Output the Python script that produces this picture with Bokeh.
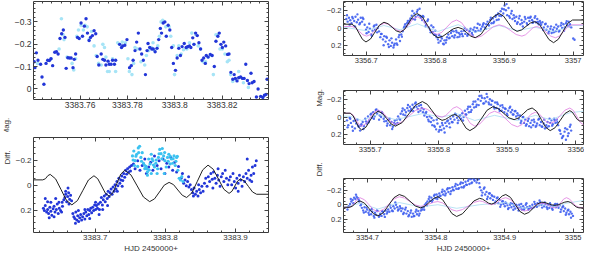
from bokeh.plotting import figure
from bokeh.layouts import row, column
from bokeh.models import Range1d, LinearAxis, SingleIntervalTicker, CustomJSTickFormatter, Title
from bokeh.embed import file_html
from bokeh.resources import INLINE

# ------------------------------------------------------------------ data
X_LABEL = "HJD 2450000+"
Y_LABEL_TOP = "Mag."
Y_LABEL_BOTTOM = "Diff."
Y_LABEL_RIGHT = "Diff." + "\u00a0" * 25 + "Mag."

# Panel A (left top): night 3383, zoom
A_dark = [(3383.7406,-0.121),(3383.7409,-0.095),(3383.7415,-0.161),(3383.7422,-0.128),(3383.7433,-0.110),(3383.7439,-0.053),
 (3383.7447,-0.021),(3383.7456,-0.114),(3383.7463,-0.128),(3383.7470,-0.127),(3383.7477,-0.135),(3383.7484,-0.104),
 (3383.7493,-0.164),(3383.7500,-0.166),(3383.7507,-0.156),(3383.7515,-0.225),(3383.7522,-0.246),(3383.7529,-0.263),
 (3383.7536,-0.230),(3383.7541,-0.092),(3383.7548,-0.139),(3383.7555,-0.138),(3383.7562,-0.138),(3383.7570,-0.095),
 (3383.7575,-0.132),(3383.7581,-0.156),(3383.7589,-0.230),(3383.7596,-0.225),(3383.7604,-0.294),(3383.7610,-0.235),
 (3383.7618,-0.280),(3383.7625,-0.313),(3383.7631,-0.249),(3383.7638,-0.216),(3383.7644,-0.230),(3383.7652,-0.238),
 (3383.7659,-0.260),(3383.7666,-0.246),(3383.7672,-0.145),(3383.7679,-0.107),(3383.7689,-0.156),(3383.7696,-0.132),
 (3383.7703,-0.128),(3383.7709,-0.107),(3383.7718,-0.124),(3383.7723,-0.110),(3383.7731,-0.110),(3383.7737,-0.128),
 (3383.7745,-0.110),(3383.7750,-0.128),(3383.7767,-0.199),(3383.7775,-0.185),(3383.7780,-0.192),(3383.7789,-0.195),
 (3383.7798,-0.220),(3383.7809,-0.095),(3383.7816,-0.104),(3383.7824,-0.128),(3383.7832,-0.171),(3383.7839,-0.209),
 (3383.7846,-0.249),(3383.7853,-0.178),(3383.7860,-0.156),(3383.7867,-0.128),(3383.7876,-0.064),(3383.7883,-0.171),
 (3383.7887,-0.203),(3383.7894,-0.185),(3383.7903,-0.178),(3383.7909,-0.178),(3383.7917,-0.166),(3383.7925,-0.181),
 (3383.7932,-0.220),(3383.7939,-0.270),(3383.7944,-0.249),(3383.7951,-0.294),(3383.7958,-0.299),(3383.7964,-0.235),
 (3383.7972,-0.284),(3383.7979,-0.263),(3383.7987,-0.185),(3383.7994,-0.114),(3383.8003,-0.083),(3383.8010,-0.138),
 (3383.8017,-0.181),(3383.8024,-0.149),(3383.8031,-0.189),(3383.8040,-0.203),(3383.8048,-0.185),(3383.8054,-0.188),
 (3383.8062,-0.192),(3383.8068,-0.185),(3383.8076,-0.228),(3383.8081,-0.199),(3383.8088,-0.249),(3383.8095,-0.238),
 (3383.8102,-0.206),(3383.8109,-0.178),(3383.8115,-0.128),(3383.8122,-0.138),(3383.8129,-0.114),(3383.8133,-0.149),
 (3383.8141,-0.142),(3383.8150,-0.154),(3383.8158,-0.149),(3383.8167,-0.100),(3383.8174,-0.213),(3383.8182,-0.235),
 (3383.8188,-0.249),(3383.8195,-0.199),(3383.8201,-0.185),(3383.8207,-0.209),(3383.8215,-0.192),(3383.8223,-0.154),
 (3383.8229,-0.156),(3383.8237,-0.074),(3383.8245,-0.043),(3383.8251,-0.064),(3383.8256,-0.047),(3383.8263,-0.036),
 (3383.8270,-0.050),(3383.8278,-0.053),(3383.8286,-0.047),(3383.8293,-0.047),(3383.8300,-0.110),(3383.8307,-0.038),
 (3383.8314,-0.024),(3383.8322,-0.070),(3383.8327,-0.028),(3383.8335,-0.033),(3383.8345,0.036),(3383.8352,0.000),
 (3383.8363,0.033),(3383.8372,0.038),(3383.8379,0.028),(3383.8386,0.024),(3383.8390,-0.043)]
A_light = [(3383.7420,-0.114),(3383.7477,-0.135),(3383.7511,-0.178),(3383.7521,-0.313),(3383.7528,-0.242),(3383.7532,-0.220),
 (3383.7545,-0.142),(3383.7566,-0.114),(3383.7573,-0.085),(3383.7581,-0.135),(3383.7586,-0.235),(3383.7593,-0.263),
 (3383.7604,-0.284),(3383.7614,-0.263),(3383.7621,-0.284),(3383.7630,-0.277),(3383.7638,-0.220),(3383.7648,-0.256),
 (3383.7659,-0.192),(3383.7668,-0.149),(3383.7678,-0.114),(3383.7689,-0.107),(3383.7696,-0.199),(3383.7703,-0.185),
 (3383.7709,-0.142),(3383.7716,-0.078),(3383.7723,-0.078),(3383.7737,-0.135),(3383.7750,-0.078),(3383.7759,-0.206),
 (3383.7767,-0.199),(3383.7778,-0.209),(3383.7791,-0.206),(3383.7802,-0.135),(3383.7808,-0.078),(3383.7819,-0.064),
 (3383.7826,-0.114),(3383.7832,-0.185),(3383.7843,-0.178),(3383.7857,-0.121),(3383.7873,-0.107),(3383.7880,-0.149),
 (3383.7890,-0.171),(3383.7901,-0.185),(3383.7908,-0.206),(3383.7914,-0.171),(3383.7928,-0.192),(3383.7935,-0.235),
 (3383.7942,-0.299),(3383.7949,-0.306),(3383.7962,-0.277),(3383.7976,-0.277),(3383.7983,-0.235),(3383.7994,-0.192),
 (3383.7999,-0.064),(3383.8010,-0.149),(3383.8017,-0.192),(3383.8027,-0.156),(3383.8037,-0.175),(3383.8051,-0.178),
 (3383.8062,-0.206),(3383.8072,-0.249),(3383.8081,-0.199),(3383.8089,-0.242),(3383.8099,-0.192),(3383.8109,-0.178),
 (3383.8119,-0.121),(3383.8130,-0.121),(3383.8140,-0.142),(3383.8154,-0.149),(3383.8163,-0.064),(3383.8174,-0.242),
 (3383.8181,-0.242),(3383.8191,-0.178),(3383.8201,-0.178),(3383.8212,-0.156),(3383.8222,-0.121),(3383.8229,-0.128),
 (3383.8236,-0.064),(3383.8245,-0.033),(3383.8256,-0.043),(3383.8270,-0.078),(3383.8290,-0.028),(3383.8311,-0.007)]

# Panel B (left bottom): whole night 3383
B_dark = [(3383.6261,0.185),(3383.6275,0.203),(3383.6288,0.164),(3383.6307,0.215),(3383.6321,0.195),(3383.6335,0.228),
 (3383.6353,0.177),(3383.6367,0.210),(3383.6381,0.241),(3383.6399,0.190),(3383.6413,0.169),(3383.6427,0.215),
 (3383.6446,0.195),(3383.6459,0.151),(3383.6473,0.228),(3383.6487,0.185),(3383.6506,0.203),(3383.6520,0.215),
 (3383.6533,0.169),(3383.6288,0.108),(3383.6321,0.133),(3383.6367,0.138),(3383.6436,0.108),(3383.6483,0.138),
 (3383.6413,0.254),(3383.6344,0.262),(3383.6529,0.138),
 (3383.6552,0.118),(3383.6566,0.100),(3383.6579,0.074),(3383.6593,0.133),(3383.6607,0.092),(3383.6621,0.062),
 (3383.6635,0.113),(3383.6649,0.082),(3383.6663,0.126),(3383.6626,0.151),(3383.6579,0.049),(3383.6612,0.023),
 (3383.6681,0.228),(3383.6695,0.254),(3383.6709,0.267),(3383.6723,0.215),(3383.6737,0.280),(3383.6750,0.246),
 (3383.6764,0.292),(3383.6778,0.262),(3383.6792,0.236),(3383.6718,0.305),(3383.6760,0.203),(3383.6806,0.280),
 (3383.6820,0.254),(3383.6838,0.228),(3383.6852,0.272),(3383.6866,0.215),(3383.6880,0.246),(3383.6894,0.195),
 (3383.6908,0.236),(3383.6921,0.203),(3383.6935,0.185),(3383.6949,0.221),(3383.6963,0.177),(3383.6977,0.203),
 (3383.6991,0.159),(3383.7005,0.195),(3383.7018,0.164),(3383.7032,0.185),(3383.7046,0.151),(3383.7060,0.195),
 (3383.6852,0.195),(3383.6921,0.267),(3383.7005,0.138),(3383.7055,0.236),
 (3383.7074,0.138),(3383.7088,0.100),(3383.7102,0.159),(3383.7115,0.118),(3383.7129,0.087),(3383.7143,0.133),
 (3383.7157,0.074),(3383.7171,0.108),(3383.7185,0.049),(3383.7199,0.092),(3383.7212,0.062),(3383.7226,0.031),
 (3383.7240,0.074),(3383.7254,0.015),(3383.7268,0.049),(3383.7106,0.195),(3383.7176,0.164),
 (3383.7282,-0.003),(3383.7296,0.031),(3383.7309,-0.028),(3383.7323,0.005),(3383.7337,-0.054),(3383.7351,-0.015),
 (3383.7365,-0.041),(3383.7379,-0.072),(3383.7393,-0.036),(3383.7406,-0.092),(3383.7420,-0.062),(3383.7434,-0.118),
 (3383.7448,-0.087),(3383.7462,-0.131),(3383.7476,-0.105),(3383.7490,-0.144),(3383.7503,-0.113),(3383.7517,-0.156),
 (3383.7384,0.010),(3383.7314,0.049),
 (3383.7545,-0.169),(3383.7568,-0.131),(3383.7605,-0.195),(3383.7638,-0.118),(3383.7670,-0.156),(3383.7707,-0.208),
 (3383.7730,-0.092),(3383.7762,-0.144),(3383.7790,-0.182),(3383.7822,-0.118),(3383.7845,-0.233),(3383.7882,-0.156),
 (3383.7910,-0.195),(3383.7938,-0.131),(3383.7966,-0.208),(3383.7993,-0.092),(3383.8021,-0.174),(3383.8049,-0.144),
 (3383.8077,-0.221),(3383.8104,-0.118),(3383.8132,-0.182),(3383.8160,-0.105),(3383.8187,-0.149),
 (3383.8224,-0.054),(3383.8243,-0.092),(3383.8261,-0.015),(3383.8280,-0.041),(3383.8298,0.005),(3383.8317,-0.028),
 (3383.8335,0.015),(3383.8354,-0.003),(3383.8372,0.036),(3383.8391,0.062),(3383.8409,0.023),(3383.8428,0.074),
 (3383.8446,0.049),(3383.8465,0.087),(3383.8483,0.036),(3383.8502,0.062),(3383.8520,0.010),(3383.8538,0.049),
 (3383.8331,-0.067),(3383.8400,0.087),(3383.8474,-0.003),
 (3383.8557,-0.015),(3383.8575,-0.054),(3383.8594,0.010),(3383.8612,-0.067),(3383.8631,-0.028),(3383.8649,-0.092),
 (3383.8668,-0.046),(3383.8686,-0.105),(3383.8705,-0.054),(3383.8723,-0.015),(3383.8742,-0.079),(3383.8760,-0.041),
 (3383.8779,0.010),(3383.8797,-0.067),(3383.8816,-0.092),(3383.8834,-0.028),(3383.8853,-0.118),(3383.8871,-0.054),
 (3383.8890,-0.003),(3383.8908,-0.041),(3383.8751,-0.131),(3383.8677,0.023),
 (3383.8927,-0.067),(3383.8945,-0.003),(3383.8964,-0.092),(3383.8982,-0.028),(3383.9001,0.023),(3383.9019,-0.054),
 (3383.9038,-0.015),(3383.9056,-0.079),(3383.9075,-0.041),(3383.9093,0.010),(3383.9112,-0.067),(3383.9130,-0.028),
 (3383.9149,-0.092),(3383.9167,-0.054),(3383.9186,-0.118),(3383.9204,-0.041),(3383.9222,-0.079),(3383.9241,-0.144),
 (3383.9259,-0.092),(3383.9278,-0.156),(3383.9296,-0.195),(3383.9167,-0.208),(3383.9231,-0.028),(3383.9038,0.049)]
B_light = [(3383.7531,-0.233),(3383.7550,-0.272),(3383.7568,-0.195),(3383.7591,-0.246),(3383.7614,-0.297),(3383.7633,-0.310),
 (3383.7651,-0.221),(3383.7670,-0.259),(3383.7688,-0.174),(3383.7707,-0.131),(3383.7725,-0.149),(3383.7744,-0.105),
 (3383.7762,-0.208),(3383.7781,-0.169),(3383.7799,-0.246),(3383.7822,-0.195),(3383.7845,-0.144),(3383.7864,-0.174),
 (3383.7882,-0.092),(3383.7901,-0.221),(3383.7919,-0.285),(3383.7938,-0.251),(3383.7956,-0.292),(3383.7975,-0.233),
 (3383.7993,-0.195),(3383.8012,-0.144),(3383.8030,-0.221),(3383.8049,-0.246),(3383.8067,-0.169),(3383.8086,-0.208),
 (3383.8104,-0.174),(3383.8123,-0.233),(3383.8141,-0.156),(3383.8160,-0.221),(3383.8178,-0.118),(3383.8197,-0.054),
 (3383.8215,-0.041),(3383.8234,-0.067),(3383.8252,-0.028),(3383.7744,-0.079),(3383.7799,-0.092),(3383.7984,-0.092),
 (3383.7605,-0.149),(3383.7559,-0.156),(3383.7540,-0.200),(3383.7580,-0.230),(3383.7620,-0.260),(3383.7660,-0.190),
 (3383.7700,-0.160),(3383.7740,-0.130),(3383.7770,-0.120),(3383.7810,-0.210),(3383.7830,-0.160),(3383.7870,-0.200),
 (3383.7890,-0.130),(3383.7910,-0.250),(3383.7950,-0.210),(3383.7990,-0.260),(3383.8040,-0.190),(3383.8070,-0.230),
 (3383.8110,-0.210),(3383.8150,-0.190),(3383.8170,-0.230)]
B_model = [(3383.6122,-0.041),(3383.6252,-0.041),(3383.6290,-0.050),(3383.6325,-0.075),(3383.6358,-0.085),
 (3383.6435,-0.049),(3383.6513,0.037),(3383.6590,0.123),(3383.6667,0.159),
 (3383.6746,0.125),(3383.6825,0.042),(3383.6903,-0.040),(3383.6982,-0.074),
 (3383.7036,-0.050),(3383.7091,0.008),(3383.7145,0.066),(3383.7199,0.090),
 (3383.7254,0.060),(3383.7310,-0.014),(3383.7365,-0.088),(3383.7420,-0.118),
 (3383.7509,-0.081),(3383.7598,0.007),(3383.7687,0.096),(3383.7776,0.133),
 (3383.7845,0.111),(3383.7915,0.056),(3383.7984,0.001),(3383.8053,-0.021),
 (3383.8116,-0.003),(3383.8178,0.040),(3383.8241,0.082),(3383.8303,0.100),
 (3383.8379,0.062),(3383.8456,-0.030),(3383.8532,-0.121),(3383.8608,-0.159),
 (3383.8683,-0.126),(3383.8758,-0.046),(3383.8833,0.034),(3383.8908,0.067),
 (3383.8949,0.050),(3383.8989,0.009),(3383.9030,-0.032),(3383.9070,-0.049),
 (3383.9128,-0.031),(3383.9186,0.013),(3383.9243,0.056),(3383.9301,0.074),(3383.9472,0.074)]

# Panel C (right top): night 3356
C_pts = [(3356.6711,-0.106),(3356.6730,-0.075),(3356.6749,-0.121),(3356.6768,-0.091),(3356.6787,-0.057),(3356.6806,-0.113),
 (3356.6825,-0.083),(3356.6844,-0.132),(3356.6863,-0.068),(3356.6882,-0.098),(3356.6901,-0.045),(3356.6920,-0.121),
 (3356.6939,-0.075),(3356.6958,-0.106),(3356.6977,-0.038),(3356.6996,0.019),(3356.7015,-0.008),(3356.7034,0.045),
 (3356.7053,0.008),(3356.7072,0.075),(3356.7091,0.030),(3356.7109,-0.019),(3356.7128,0.019),(3356.7147,-0.038),
 (3356.7166,0.000),(3356.7185,0.038),(3356.7204,0.106),(3356.7223,0.068),(3356.7242,0.132),(3356.7261,0.094),
 (3356.7280,0.158),(3356.7299,0.113),(3356.7318,0.189),(3356.7337,0.143),(3356.7356,0.208),(3356.7375,0.170),
 (3356.7394,0.226),(3356.7413,0.181),(3356.7432,0.132),(3356.7451,0.196),(3356.7470,0.106),(3356.7489,0.151),
 (3356.7508,0.075),(3356.7527,0.038),(3356.7546,0.000),(3356.7565,-0.045),(3356.7584,-0.019),(3356.7603,-0.083),
 (3356.7621,-0.057),(3356.7640,-0.113),(3356.7659,-0.143),(3356.7678,-0.106),(3356.7697,-0.170),(3356.7716,-0.132),
 (3356.7735,-0.189),(3356.7754,-0.151),(3356.7773,-0.226),(3356.7792,-0.121),(3356.7811,-0.094),(3356.7830,-0.132),
 (3356.7849,-0.068),(3356.7868,-0.038),(3356.7887,-0.083),(3356.7906,-0.008),(3356.7925,0.019),(3356.7944,-0.030),
 (3356.7963,0.045),(3356.7982,0.075),(3356.8001,0.030),(3356.8020,0.106),(3356.8039,0.132),(3356.8058,0.083),
 (3356.8077,0.151),(3356.8096,0.121),(3356.8115,0.181),(3356.8134,0.143),(3356.8153,0.170),(3356.8172,0.106),
 (3356.8190,0.075),(3356.8209,0.113),(3356.8228,0.057),(3356.8247,0.094),(3356.8266,0.038),(3356.8285,0.083),
 (3356.8304,0.030),(3356.8323,0.106),(3356.8342,0.057),(3356.8361,0.075),(3356.8380,0.038),(3356.8399,0.094),
 (3356.8418,0.030),(3356.8437,0.068),(3356.8456,0.019),(3356.8475,0.075),(3356.8494,0.038),(3356.8513,0.008),
 (3356.8532,0.057),(3356.8551,0.019),(3356.8569,-0.008),(3356.8588,0.038),(3356.8607,0.000),(3356.8626,0.030),
 (3356.8645,-0.038),(3356.8664,0.008),(3356.8683,-0.019),(3356.8702,-0.057),(3356.8721,-0.008),(3356.8740,-0.045),
 (3356.8759,-0.075),(3356.8778,-0.030),(3356.8797,-0.094),(3356.8816,-0.057),(3356.8835,-0.113),(3356.8854,-0.075),
 (3356.8873,-0.132),(3356.8892,-0.094),(3356.8911,-0.170),(3356.8930,-0.143),(3356.8949,-0.196),(3356.8968,-0.226),
 (3356.8987,-0.170),(3356.9006,-0.264),(3356.9025,-0.208),(3356.9044,-0.151),(3356.9063,-0.234),(3356.9082,-0.121),
 (3356.9101,-0.170),(3356.9120,-0.106),(3356.9138,-0.151),(3356.9157,-0.083),(3356.9176,-0.132),(3356.9195,-0.068),
 (3356.9214,-0.113),(3356.9233,-0.045),(3356.9252,-0.094),(3356.9271,-0.019),(3356.9290,-0.075),(3356.9309,-0.106),
 (3356.9328,-0.057),(3356.9347,-0.121),(3356.9366,-0.083),(3356.9385,-0.132),(3356.9404,-0.094),(3356.9423,-0.075),
 (3356.9442,-0.121),(3356.9461,-0.068),(3356.9480,-0.106),(3356.9499,-0.045),(3356.9517,-0.083),(3356.9536,-0.038),
 (3356.9555,-0.068),(3356.9574,-0.008),(3356.9593,-0.045),(3356.9612,0.019),(3356.9631,-0.019),(3356.9650,0.038),
 (3356.9669,0.008),(3356.9688,0.057),(3356.9707,0.019),(3356.9726,-0.008),(3356.9745,0.038),(3356.9764,0.008),
 (3356.9783,-0.019),(3356.9802,0.030),(3356.9821,-0.030),(3356.9840,0.000),(3356.9859,-0.045),(3356.9878,-0.008),
 (3356.9897,-0.057),(3356.9916,-0.030),(3356.9935,-0.075),(3356.9954,-0.045),(3356.9973,-0.008),(3357.0001,0.121),
 (3357.0020,0.136)]
C_extra = [(3356.6721,-0.15),(3356.6759,-0.04),(3356.6797,-0.13),(3356.6835,-0.02),(3356.6872,-0.16),(3356.6910,-0.06),
 (3356.6948,-0.12),(3356.7005,0.06),(3356.7043,-0.05),(3356.7081,0.09),(3356.7119,-0.03),(3356.7157,0.05),
 (3356.7214,0.07),(3356.7252,0.20),(3356.7290,0.10),(3356.7328,0.22),(3356.7365,0.12),(3356.7403,0.20),
 (3356.7441,0.18),(3356.7479,0.08),(3356.7517,0.10),(3356.7555,-0.02),(3356.7593,-0.06),
 (3356.7631,-0.09),(3356.7669,-0.20),(3356.7707,-0.10),(3356.7745,-0.21),(3356.7783,-0.14),
 (3356.7820,-0.14),(3356.7858,-0.02),(3356.7896,-0.10),(3356.7934,0.05),(3356.7972,-0.01),
 (3356.8010,0.08),(3356.8048,0.17),(3356.8086,0.10),(3356.8124,0.19),(3356.8162,0.14),
 (3356.8200,0.12),(3356.8238,0.03),(3356.8276,0.11),(3356.8313,0.05),(3356.8351,0.10),
 (3356.8389,0.07),(3356.8427,0.00),(3356.8465,0.09),(3356.8503,0.03),(3356.8541,0.08),
 (3356.8579,0.04),(3356.8617,-0.05),(3356.8655,0.03),(3356.8693,-0.04),(3356.8731,0.01),
 (3356.8768,-0.04),(3356.8806,-0.12),(3356.8844,-0.06),(3356.8882,-0.15),(3356.8920,-0.10),
 (3356.8958,-0.14),(3356.8996,-0.22),(3356.9034,-0.28),(3356.9072,-0.14),(3356.9110,-0.20),
 (3356.9148,-0.12),(3356.9186,-0.05),(3356.9224,-0.14),(3356.9261,-0.06),(3356.9299,-0.13),
 (3356.9337,-0.04),(3356.9375,-0.12),(3356.9413,-0.06),(3356.9451,-0.14),(3356.9489,-0.07),
 (3356.9527,-0.06),(3356.9565,0.02),(3356.9603,-0.05),(3356.9641,0.06),(3356.9679,-0.02),
 (3356.9717,0.05),(3356.9754,-0.04),(3356.9792,0.04),(3356.9830,-0.06),(3356.9868,0.03),
 (3356.9906,-0.08),(3356.9944,-0.02)]
C_black = [(3356.6673,-0.045),(3356.6792,-0.045),(3356.6843,-0.015),(3356.6894,0.059),(3356.6945,0.132),(3356.6996,0.162),
 (3356.7061,0.128),(3356.7126,0.047),(3356.7191,-0.034),(3356.7256,-0.068),(3356.7315,-0.051),(3356.7375,-0.010),
 (3356.7434,0.032),(3356.7493,0.049),(3356.7555,0.017),(3356.7617,-0.061),(3356.7678,-0.138),(3356.7740,-0.170),
 (3356.7815,-0.129),(3356.7890,-0.029),(3356.7964,0.072),(3356.8039,0.113),(3356.8112,0.095),(3356.8186,0.053),
 (3356.8259,0.010),(3356.8332,-0.008),(3356.8394,0.010),(3356.8456,0.053),(3356.8517,0.095),(3356.8579,0.113),
 (3356.8666,0.072),(3356.8752,-0.029),(3356.8839,-0.129),(3356.8925,-0.170),(3356.8990,-0.140),(3356.9056,-0.066),
 (3356.9121,0.008),(3356.9186,0.038),(3356.9251,0.022),(3356.9316,-0.019),(3356.9381,-0.059),(3356.9446,-0.075),
 (3356.9514,-0.039),(3356.9581,0.048),(3356.9649,0.134),(3356.9716,0.170),(3356.9785,0.131),(3356.9854,0.038),
 (3356.9922,-0.055),(3356.9991,-0.094),(3357.0148,-0.094)]
C_magenta = [(3356.6673,-0.019),(3356.6792,-0.019),(3356.6845,-0.003),(3356.6899,0.038),(3356.6952,0.078),(3356.7005,0.094),
 (3356.7070,0.072),(3356.7136,0.019),(3356.7201,-0.035),(3356.7266,-0.057),(3356.7325,-0.043),(3356.7385,-0.010),
 (3356.7444,0.024),(3356.7503,0.038),(3356.7562,0.013),(3356.7622,-0.047),(3356.7681,-0.107),(3356.7740,-0.132),
 (3356.7811,-0.102),(3356.7882,-0.029),(3356.7953,0.045),(3356.8024,0.075),(3356.8095,0.050),(3356.8167,-0.010),
 (3356.8238,-0.069),(3356.8309,-0.094),(3356.8380,-0.064),(3356.8451,0.010),(3356.8522,0.083),(3356.8593,0.113),
 (3356.8676,0.091),(3356.8759,0.038),(3356.8842,-0.016),(3356.8925,-0.038),(3356.9008,-0.019),(3356.9091,0.028),
 (3356.9174,0.075),(3356.9257,0.094),(3356.9310,0.078),(3356.9364,0.038),(3356.9417,-0.003),(3356.9470,-0.019),
 (3356.9539,0.000),(3356.9608,0.047),(3356.9676,0.094),(3356.9745,0.113),(3356.9804,0.091),(3356.9864,0.038),
 (3356.9923,-0.016),(3356.9982,-0.038),(3357.0148,-0.038)]
C_cyan = [(3356.6673,-0.010),(3356.6996,0.030),(3356.7256,-0.030),(3356.7493,0.020),(3356.7740,-0.050),(3356.8039,0.040),
 (3356.8332,-0.040),(3356.8579,0.050),(3356.8925,-0.030),(3356.9186,0.030),(3356.9446,-0.010),(3356.9716,0.040),
 (3356.9991,-0.030),(3357.0148,-0.030)]

# Panel D (right middle): night 3355
D_pts = [(3355.6661,0.038),(3355.6680,0.094),(3355.6699,0.008),(3355.6718,0.068),(3355.6737,0.113),(3355.6757,0.045),
 (3355.6776,0.132),(3355.6795,0.075),(3355.6814,0.030),(3355.6833,0.113),(3355.6852,0.158),(3355.6871,0.083),
 (3355.6890,0.057),(3355.6909,0.106),(3355.6928,0.019),(3355.6948,0.075),(3355.6967,-0.008),(3355.6986,0.038),
 (3355.7005,-0.030),(3355.7024,0.008),(3355.7043,-0.057),(3355.7062,-0.008),(3355.7081,-0.083),(3355.7100,-0.038),
 (3355.7119,-0.068),(3355.7139,-0.019),(3355.7158,0.000),(3355.7177,-0.045),(3355.7196,0.019),(3355.7215,-0.008),
 (3355.7234,0.045),(3355.7253,0.075),(3355.7272,0.030),(3355.7291,0.094),(3355.7310,0.057),(3355.7330,0.113),
 (3355.7349,0.068),(3355.7368,0.083),(3355.7387,0.030),(3355.7406,-0.008),(3355.7425,0.019),(3355.7444,-0.038),
 (3355.7463,-0.068),(3355.7482,-0.030),(3355.7501,-0.083),(3355.7521,-0.057),(3355.7540,-0.106),(3355.7559,-0.075),
 (3355.7578,-0.121),(3355.7597,-0.094),(3355.7617,-0.143),(3355.7636,-0.113),(3355.7655,-0.158),(3355.7674,-0.121),
 (3355.7693,-0.094),(3355.7713,-0.132),(3355.7732,-0.075),(3355.7751,-0.106),(3355.7770,-0.057),(3355.7789,-0.019),
 (3355.7808,-0.045),(3355.7827,0.000),(3355.7846,0.030),(3355.7865,-0.008),(3355.7884,0.057),(3355.7904,0.094),
 (3355.7923,0.038),(3355.7942,0.113),(3355.7961,0.143),(3355.7980,0.075),(3355.7999,0.170),(3355.8018,0.113),
 (3355.8037,0.151),(3355.8056,0.094),(3355.8075,0.132),(3355.8095,0.068),(3355.8114,0.106),(3355.8133,0.038),
 (3355.8152,0.075),(3355.8171,0.019),(3355.8190,0.057),(3355.8209,-0.008),(3355.8228,0.030),(3355.8247,-0.030),
 (3355.8266,0.008),(3355.8286,0.038),(3355.8305,-0.019),(3355.8324,0.019),(3355.8343,-0.045),(3355.8362,0.000),
 (3355.8381,-0.075),(3355.8400,-0.030),(3355.8419,-0.094),(3355.8438,-0.057),(3355.8457,-0.121),(3355.8477,-0.083),
 (3355.8496,-0.151),(3355.8515,-0.113),(3355.8534,-0.181),(3355.8553,-0.143),(3355.8573,-0.208),(3355.8592,-0.245),
 (3355.8611,-0.189),(3355.8630,-0.226),(3355.8649,-0.158),(3355.8668,-0.219),(3355.8687,-0.181),(3355.8707,-0.234),
 (3355.8726,-0.170),(3355.8745,-0.208),(3355.8764,-0.143),(3355.8783,-0.189),(3355.8802,-0.121),(3355.8821,-0.170),
 (3355.8840,-0.106),(3355.8860,-0.151),(3355.8879,-0.094),(3355.8898,-0.132),(3355.8917,-0.075),(3355.8936,-0.113),
 (3355.8955,-0.057),(3355.8974,-0.094),(3355.8993,-0.038),(3355.9012,-0.075),(3355.9031,-0.106),(3355.9051,-0.057),
 (3355.9070,-0.083),(3355.9089,-0.030),(3355.9108,-0.068),(3355.9127,-0.008),(3355.9146,-0.045),(3355.9165,0.019),
 (3355.9184,-0.019),(3355.9203,0.045),(3355.9222,0.000),(3355.9242,0.068),(3355.9261,0.030),(3355.9280,0.083),
 (3355.9299,0.045),(3355.9318,0.106),(3355.9337,0.068),(3355.9356,0.038),(3355.9375,0.094),(3355.9394,0.057),
 (3355.9413,0.113),(3355.9433,0.075),(3355.9452,0.030),(3355.9471,0.094),(3355.9490,0.057),(3355.9509,0.113),
 (3355.9529,0.075),(3355.9548,0.132),(3355.9567,0.094),(3355.9586,0.057),(3355.9605,0.106),(3355.9624,0.068),
 (3355.9643,0.038),(3355.9662,0.083),(3355.9681,0.019),(3355.9701,0.068),(3355.9720,0.030),(3355.9739,0.094),
 (3355.9758,0.151),(3355.9777,0.196),(3355.9796,0.245),(3355.9815,0.219),(3355.9834,0.170),(3355.9854,0.264),
 (3355.9873,0.143),(3355.9892,0.189),(3355.9911,0.113),(3355.9930,0.158)]
D_extra = [(3355.6670,0.12),(3355.6708,0.02),(3355.6747,0.16),(3355.6785,0.04),(3355.6823,0.10),
 (3355.6861,0.10),(3355.6900,0.14),(3355.6938,0.05),(3355.6976,0.06),(3355.7014,-0.04),
 (3355.7053,0.02),(3355.7091,-0.09),(3355.7129,0.03),(3355.7167,-0.06),(3355.7206,0.05),
 (3355.7244,0.10),(3355.7282,0.02),(3355.7320,0.14),(3355.7358,0.04),(3355.7397,0.07),
 (3355.7435,0.03),(3355.7473,-0.10),(3355.7511,-0.02),(3355.7550,-0.14),(3355.7588,-0.07),
 (3355.7626,-0.07),(3355.7664,-0.17),(3355.7703,-0.06),(3355.7741,-0.14),(3355.7779,-0.09),
 (3355.7817,-0.06),(3355.7856,0.05),(3355.7894,0.01),(3355.7932,0.10),(3355.7970,0.03),
 (3355.8009,0.15),(3355.8047,0.07),(3355.8085,0.18),(3355.8123,0.05),(3355.8162,0.12),
 (3355.8200,0.06),(3355.8238,-0.04),(3355.8276,0.07),(3355.8314,-0.02),(3355.8353,0.04),
 (3355.8391,-0.03),(3355.8429,-0.12),(3355.8467,-0.06),(3355.8506,-0.18),(3355.8544,-0.12),
 (3355.8582,-0.14),(3355.8620,-0.25),(3355.8659,-0.16),(3355.8697,-0.27),(3355.8735,-0.15),
 (3355.8773,-0.19),(3355.8812,-0.10),(3355.8850,-0.17),(3355.8888,-0.07),(3355.8926,-0.14),
 (3355.8965,-0.10),(3355.9003,-0.02),(3355.9041,-0.12),(3355.9079,-0.03),(3355.9118,-0.07),
 (3355.9156,-0.02),(3355.9194,0.07),(3355.9232,0.00),(3355.9270,0.10),(3355.9309,0.02),
 (3355.9347,0.12),(3355.9385,0.03),(3355.9423,0.10),(3355.9462,0.02),(3355.9500,0.11),
 (3355.9538,0.03),(3355.9576,0.12),(3355.9615,0.02),(3355.9653,0.10),(3355.9691,0.04),
 (3355.9729,0.06),(3355.9768,0.16),(3355.9806,0.23),(3355.9844,0.13),(3355.9882,0.22),
 (3355.9921,0.09)]
D_black = [(3355.6613,-0.045),(3355.6708,-0.045),(3355.6750,-0.016),(3355.6792,0.053),(3355.6834,0.122),(3355.6876,0.151),
 (3355.6936,0.119),(3355.6996,0.042),(3355.7055,-0.036),(3355.7115,-0.068),(3355.7178,-0.043),(3355.7242,0.019),
 (3355.7305,0.081),(3355.7368,0.106),(3355.7466,0.064),(3355.7564,-0.038),(3355.7662,-0.139),(3355.7760,-0.181),
 (3355.7832,-0.149),(3355.7904,-0.072),(3355.7975,0.006),(3355.8047,0.038),(3355.8095,0.028),(3355.8143,0.004),
 (3355.8190,-0.020),(3355.8238,-0.030),(3355.8292,-0.003),(3355.8346,0.064),(3355.8399,0.131),(3355.8453,0.158),
 (3355.8537,0.117),(3355.8621,0.019),(3355.8704,-0.080),(3355.8788,-0.121),(3355.8866,-0.099),(3355.8943,-0.046),
 (3355.9021,0.008),(3355.9098,0.030),(3355.9164,0.010),(3355.9230,-0.038),(3355.9295,-0.086),(3355.9361,-0.106),
 (3355.9427,-0.067),(3355.9493,0.026),(3355.9558,0.119),(3355.9624,0.158),(3355.9696,0.124),(3355.9768,0.042),
 (3355.9839,-0.041),(3355.9911,-0.075),(3355.9947,-0.057),(3355.9983,-0.015),(3356.0018,0.027),(3356.0054,0.045),
 (3356.0116,0.045)]
D_magenta = [(3355.6613,-0.045),(3355.6708,-0.045),(3355.6750,-0.023),(3355.6792,0.031),(3355.6834,0.084),(3355.6876,0.106),
 (3355.6936,0.078),(3355.6996,0.012),(3355.7055,-0.055),(3355.7115,-0.083),(3355.7178,-0.059),(3355.7242,0.000),
 (3355.7305,0.059),(3355.7368,0.083),(3355.7466,0.055),(3355.7564,-0.012),(3355.7662,-0.078),(3355.7760,-0.106),
 (3355.7832,-0.091),(3355.7904,-0.053),(3355.7975,-0.015),(3355.8047,0.000),(3355.8101,-0.018),(3355.8155,-0.061),
 (3355.8208,-0.103),(3355.8262,-0.121),(3355.8328,-0.088),(3355.8394,-0.008),(3355.8459,0.073),(3355.8525,0.106),
 (3355.8597,0.081),(3355.8669,0.019),(3355.8740,-0.043),(3355.8812,-0.068),(3355.8896,-0.042),(3355.8979,0.023),
 (3355.9063,0.087),(3355.9146,0.113),(3355.9212,0.088),(3355.9278,0.028),(3355.9343,-0.032),(3355.9409,-0.057),
 (3355.9463,-0.038),(3355.9517,0.009),(3355.9570,0.056),(3355.9624,0.075),(3355.9696,0.049),(3355.9768,-0.016),
 (3355.9839,-0.080),(3355.9911,-0.106),(3355.9962,-0.077),(3356.0014,-0.006),(3356.0065,0.065),(3356.0116,0.094)]
D_cyan = [(3355.6613,-0.010),(3355.6708,-0.010),(3355.6876,0.040),(3355.7115,-0.030),(3355.7368,0.030),(3355.7760,-0.040),
 (3355.8047,0.000),(3355.8262,-0.040),(3355.8525,0.040),(3355.8812,-0.020),(3355.9146,0.040),(3355.9409,-0.020),
 (3355.9624,0.030),(3355.9911,-0.050),(3356.0116,-0.070)]

# Panel E (right bottom): night 3354
E_pts = [(3354.6708,0.067),(3354.6727,0.022),(3354.6746,-0.009),(3354.6765,-0.044),(3354.6784,-0.067),(3354.6804,-0.098),
 (3354.6823,-0.080),(3354.6842,-0.111),(3354.6861,-0.089),(3354.6880,-0.044),(3354.6899,0.009),(3354.6918,0.044),
 (3354.6937,0.080),(3354.6956,0.036),(3354.6975,0.098),(3354.6995,0.067),(3354.7014,0.111),(3354.7033,0.080),
 (3354.7052,0.133),(3354.7071,0.098),(3354.7091,0.156),(3354.7110,0.111),(3354.7129,0.142),(3354.7148,0.089),
 (3354.7167,0.169),(3354.7186,0.124),(3354.7205,0.156),(3354.7224,0.098),(3354.7243,0.133),(3354.7263,0.080),
 (3354.7282,0.124),(3354.7301,0.067),(3354.7320,0.098),(3354.7339,0.044),(3354.7358,0.080),(3354.7377,0.022),
 (3354.7396,0.053),(3354.7416,0.000),(3354.7435,0.036),(3354.7454,0.067),(3354.7473,0.022),(3354.7492,0.089),
 (3354.7511,0.053),(3354.7530,0.111),(3354.7549,0.067),(3354.7568,0.124),(3354.7588,0.089),(3354.7607,0.142),
 (3354.7626,0.111),(3354.7645,0.169),(3354.7664,0.124),(3354.7683,0.156),(3354.7702,0.098),(3354.7721,0.133),
 (3354.7740,0.089),(3354.7760,0.124),(3354.7779,0.080),(3354.7798,0.067),(3354.7817,0.036),(3354.7836,0.000),
 (3354.7855,-0.022),(3354.7874,-0.044),(3354.7893,-0.080),(3354.7912,-0.053),(3354.7932,-0.098),(3354.7951,-0.067),
 (3354.7970,-0.124),(3354.7989,-0.089),(3354.8008,-0.142),(3354.8027,-0.111),(3354.8047,-0.156),(3354.8066,-0.124),
 (3354.8085,-0.178),(3354.8104,-0.142),(3354.8123,-0.187),(3354.8142,-0.156),(3354.8161,-0.213),(3354.8180,-0.178),
 (3354.8199,-0.231),(3354.8219,-0.187),(3354.8238,-0.244),(3354.8257,-0.200),(3354.8276,-0.258),(3354.8295,-0.222),
 (3354.8314,-0.276),(3354.8333,-0.231),(3354.8352,-0.289),(3354.8371,-0.244),(3354.8391,-0.302),(3354.8410,-0.258),
 (3354.8429,-0.320),(3354.8448,-0.276),(3354.8467,-0.333),(3354.8486,-0.289),(3354.8505,-0.356),(3354.8524,-0.311),
 (3354.8544,-0.364),(3354.8563,-0.333),(3354.8582,-0.378),(3354.8601,-0.347),(3354.8620,-0.356),(3354.8639,-0.244),
 (3354.8658,-0.200),(3354.8677,-0.169),(3354.8696,-0.222),(3354.8716,-0.142),(3354.8735,-0.178),(3354.8754,-0.111),
 (3354.8773,-0.156),(3354.8792,-0.089),(3354.8811,-0.133),(3354.8830,-0.067),(3354.8849,-0.111),(3354.8868,-0.044),
 (3354.8888,-0.089),(3354.8907,-0.022),(3354.8926,-0.067),(3354.8945,0.000),(3354.8964,-0.044),(3354.8983,-0.009),
 (3354.9003,0.022),(3354.9022,-0.022),(3354.9041,0.009),(3354.9060,0.044),(3354.9079,0.000),(3354.9098,0.036),
 (3354.9117,-0.009),(3354.9136,0.022),(3354.9155,0.053),(3354.9175,0.009),(3354.9194,0.044),(3354.9213,0.000),
 (3354.9232,0.036),(3354.9251,0.067),(3354.9270,0.022),(3354.9289,0.053),(3354.9308,0.000),(3354.9328,0.036),
 (3354.9347,0.067),(3354.9366,0.022),(3354.9385,0.044),(3354.9404,0.000),(3354.9423,0.036),(3354.9442,-0.009),
 (3354.9461,0.022),(3354.9480,-0.022),(3354.9500,0.009),(3354.9519,-0.036),(3354.9538,0.000),(3354.9557,-0.022),
 (3354.9576,0.022),(3354.9595,-0.009),(3354.9614,0.036),(3354.9633,0.000),(3354.9652,0.044),(3354.9672,0.009),
 (3354.9691,0.053),(3354.9710,0.022),(3354.9729,0.000),(3354.9748,0.036),(3354.9767,-0.009),(3354.9786,0.044),
 (3354.9805,0.009),(3354.9824,0.067),(3354.9844,0.036),(3354.9863,0.089),(3354.9882,0.053),(3354.9901,0.111),
 (3354.9920,0.080),(3354.9939,0.133),(3354.9959,0.098),(3354.9978,0.124),(3354.9997,0.156)]
E_extra = [(3354.6718,0.03),(3354.6756,-0.08),(3354.6794,-0.02),(3354.6832,-0.14),(3354.6871,-0.07),
 (3354.6909,-0.01),(3354.6947,0.11),(3354.6985,0.04),(3354.7024,0.14),(3354.7062,0.06),
 (3354.7100,0.18),(3354.7138,0.08),(3354.7177,0.15),(3354.7215,0.09),(3354.7253,0.17),
 (3354.7291,0.10),(3354.7330,0.01),(3354.7368,0.09),(3354.7406,-0.03),(3354.7444,0.08),
 (3354.7483,0.05),(3354.7521,0.13),(3354.7559,0.04),(3354.7597,0.16),(3354.7635,0.08),
 (3354.7674,0.16),(3354.7712,0.07),(3354.7750,0.15),(3354.7788,0.04),(3354.7827,0.07),
 (3354.7865,0.01),(3354.7903,-0.11),(3354.7941,-0.04),(3354.7980,-0.14),(3354.8018,-0.08),
 (3354.8056,-0.12),(3354.8094,-0.21),(3354.8133,-0.13),(3354.8171,-0.23),(3354.8209,-0.15),
 (3354.8247,-0.21),(3354.8286,-0.29),(3354.8324,-0.22),(3354.8362,-0.31),(3354.8400,-0.24),
 (3354.8439,-0.28),(3354.8477,-0.36),(3354.8515,-0.30),(3354.8553,-0.35),(3354.8591,-0.31),
 (3354.8630,-0.30),(3354.8668,-0.13),(3354.8706,-0.24),(3354.8744,-0.08),(3354.8783,-0.16),
 (3354.8821,-0.12),(3354.8859,-0.02),(3354.8897,-0.10),(3354.8936,0.03),(3354.8974,-0.05),
 (3354.9012,-0.03),(3354.9050,0.06),(3354.9089,-0.02),(3354.9127,0.07),(3354.9165,0.00),
 (3354.9203,0.08),(3354.9242,-0.01),(3354.9280,0.07),(3354.9318,-0.02),(3354.9356,0.06),
 (3354.9395,0.05),(3354.9433,-0.04),(3354.9471,0.03),(3354.9509,-0.06),(3354.9547,0.04),
 (3354.9586,-0.03),(3354.9624,0.06),(3354.9662,-0.02),(3354.9700,0.07),(3354.9739,-0.01),
 (3354.9777,0.01),(3354.9815,0.10),(3354.9853,0.02),(3354.9892,0.14),(3354.9930,0.07),
 (3354.9968,0.18)]
E_black = [(3354.6651,0.036),(3354.6737,0.036),(3354.6775,0.023),(3354.6814,-0.009),(3354.6852,-0.040),(3354.6890,-0.053),
 (3354.6956,-0.022),(3354.7022,0.052),(3354.7087,0.125),(3354.7153,0.156),(3354.7231,0.112),(3354.7308,0.007),
 (3354.7386,-0.098),(3354.7463,-0.142),(3354.7541,-0.115),(3354.7619,-0.049),(3354.7696,0.017),(3354.7774,0.044),
 (3354.7837,0.021),(3354.7901,-0.034),(3354.7964,-0.088),(3354.8027,-0.111),(3354.8095,-0.071),(3354.8164,0.027),
 (3354.8232,0.124),(3354.8300,0.164),(3354.8384,0.127),(3354.8468,0.038),(3354.8551,-0.052),(3354.8635,-0.089),
 (3354.8679,-0.077),(3354.8723,-0.049),(3354.8767,-0.021),(3354.8811,-0.009),(3354.8863,-0.028),(3354.8914,-0.076),
 (3354.8966,-0.123),(3354.9017,-0.142),(3354.9085,-0.102),(3354.9153,-0.005),(3354.9221,0.093),(3354.9289,0.133),
 (3354.9353,0.108),(3354.9416,0.049),(3354.9480,-0.011),(3354.9543,-0.036),(3354.9591,-0.029),(3354.9639,-0.014),
 (3354.9686,0.002),(3354.9734,0.009),(3354.9782,0.001),(3354.9830,-0.018),(3354.9877,-0.036),(3354.9925,-0.044),
 (3354.9965,-0.031),(3355.0004,0.000),(3355.0044,0.031),(3355.0083,0.044),(3355.0155,0.044)]
E_magenta = [(3354.6651,0.036),(3354.6737,0.036),(3354.6775,0.016),(3354.6814,-0.031),(3354.6852,-0.078),(3354.6890,-0.098),
 (3354.6956,-0.069),(3354.7022,0.000),(3354.7087,0.069),(3354.7153,0.098),(3354.7231,0.067),(3354.7308,-0.007),
 (3354.7386,-0.080),(3354.7463,-0.111),(3354.7541,-0.092),(3354.7619,-0.045),(3354.7696,0.003),(3354.7774,0.022),
 (3354.7837,0.012),(3354.7901,-0.011),(3354.7964,-0.034),(3354.8027,-0.044),(3354.8095,-0.025),(3354.8164,0.023),
 (3354.8232,0.070),(3354.8300,0.089),(3354.8384,0.068),(3354.8468,0.018),(3354.8551,-0.032),(3354.8635,-0.053),
 (3354.8679,-0.045),(3354.8723,-0.027),(3354.8767,-0.008),(3354.8811,0.000),(3354.8863,-0.014),(3354.8914,-0.049),
 (3354.8966,-0.084),(3354.9017,-0.098),(3354.9085,-0.071),(3354.9153,-0.005),(3354.9221,0.062),(3354.9289,0.089),
 (3354.9353,0.073),(3354.9416,0.034),(3354.9480,-0.006),(3354.9543,-0.022),(3354.9591,-0.012),(3354.9639,0.011),
 (3354.9686,0.034),(3354.9734,0.044),(3354.9776,0.023),(3354.9818,-0.027),(3354.9859,-0.077),(3354.9901,-0.098),
 (3354.9947,-0.078),(3354.9992,-0.031),(3355.0037,0.016),(3355.0083,0.036),(3355.0155,0.044)]
E_cyan = [(3354.6651,0.040),(3354.6890,-0.020),(3354.7153,0.060),(3354.7463,-0.030),(3354.7774,0.030),(3354.8027,0.000),
 (3354.8300,0.050),(3354.8635,0.000),(3354.9017,-0.030),(3354.9289,0.050),(3354.9543,0.000),(3354.9734,0.030),
 (3354.9901,-0.020),(3355.0155,-0.060)]

# ------------------------------------------------------------------ style
FONT = "Liberation Sans"
TXT = "#333333"
DARK = "#2236d8"
LIGHT_A = "#a6e4f6"
LIGHT_B = "#3cc2f0"
PTS_R = "#3f5ff0"
FMT_CODE = "var v = Math.round(tick * 1000) / 1000; return v.toString().replace('-', '\\u2212');"


def xy(pairs):
    return [a for a, b in pairs], [b for a, b in pairs]


def panel(w, h, xr, yr, borders, xint, xminor, yint, yminor, tick_px, xlabel=None, ylabel=None, yl_valign="bottom"):
    l, r, t, b = borders
    p = figure(width=w, height=h, x_range=Range1d(*xr), y_range=Range1d(*yr),
               x_axis_type=None, y_axis_type=None, output_backend="svg",
               toolbar_location=None, min_border_left=l, min_border_right=r,
               min_border_top=t, min_border_bottom=b)
    p.outline_line_color = "#3a3a3a"
    p.outline_line_width = 1
    p.background_fill_color = "white"
    p.border_fill_color = "white"
    fmt = CustomJSTickFormatter(code=FMT_CODE)
    for loc in ("below", "left", "above", "right"):
        horiz = loc in ("below", "above")
        ticker = SingleIntervalTicker(interval=xint if horiz else yint,
                                      num_minor_ticks=xminor if horiz else yminor)
        shown = loc in ("below", "left")
        ax = LinearAxis(ticker=ticker, formatter=fmt, axis_line_color=None,
                        major_tick_in=4, major_tick_out=0, minor_tick_in=2, minor_tick_out=0,
                        major_tick_line_color="#444444", minor_tick_line_color="#444444",
                        major_label_text_font=FONT,
                        major_label_text_font_size=tick_px if shown else "0px",
                        major_label_text_color=TXT if shown else None,
                        major_label_standoff=2 if shown else 0)
        if loc == "below" and xlabel:
            ax.axis_label = xlabel
            ax.axis_label_text_font = FONT
            ax.axis_label_text_font_size = "8px"
            ax.axis_label_text_font_style = "normal"
            ax.axis_label_text_color = TXT
            ax.axis_label_standoff = 1
        p.add_layout(ax, loc)
    if ylabel:
        # title anchored by its lower end; offset moves it upward
        text, offset = ylabel
        p.add_layout(Title(text=text, align="left", offset=offset, standoff=0,
                           vertical_align=yl_valign,
                           text_font=FONT, text_font_size="8px", text_font_style="normal",
                           text_color=TXT), "left")
    return p


def curve(p, pairs, color, width):
    x, y = xy(pairs)
    p.line(x, y, line_color=color, line_width=width)


# Left column
pA = panel(312, 132, (3383.7403, 3383.8396), (0.047, -0.39), (32, 44, 1, 33), 0.02, 5, 0.1, 5, "8.5px",
           None, (Y_LABEL_TOP, -36), "middle")
x, y = xy(A_light); pA.scatter(x, y, size=3.6, fill_color=LIGHT_A, line_color=None)
x, y = xy(A_dark); pA.scatter(x, y, size=3.4, fill_color=DARK, line_color=None)

pB = panel(312, 124, (3383.612, 3383.947), (0.38, -0.38), (32, 44, 5, 24), 0.1, 5, 0.2, 4, "8px",
           X_LABEL, (Y_LABEL_BOTTOM, 68), "middle")
x, y = xy(B_dark); pB.scatter(x, y, size=3.0, fill_color=DARK, line_color=None)
x, y = xy(B_light); pB.scatter(x, y, size=3.2, fill_color=LIGHT_B, line_color=None)
curve(pB, B_model, "#222222", 1.0)

# Right column
pC = panel(272, 72, (3356.667, 3357.015), (0.32, -0.31), (30, 1, 1, 17), 0.1, 5, 0.2, 4, "7.5px")
x, y = xy(C_pts); pC.scatter(x, y, size=2.4, fill_color=PTS_R, line_color=None, fill_alpha=0.9)
x, y = xy(C_extra); pC.scatter(x, y, size=2.4, fill_color=PTS_R, line_color=None, fill_alpha=0.9)
curve(pC, C_cyan, "#a8dcf2", 0.8)
curve(pC, C_magenta, "#e07be0", 0.8)
curve(pC, C_black, "#222222", 1.0)

pD = panel(272, 105, (3355.661, 3356.011), (0.32, -0.31), (30, 1, 18, 33), 0.1, 5, 0.2, 4, "7.5px",
           None, (Y_LABEL_RIGHT, -32))
x, y = xy(D_pts); pD.scatter(x, y, size=2.4, fill_color=PTS_R, line_color=None, fill_alpha=0.9)
x, y = xy(D_extra); pD.scatter(x, y, size=2.4, fill_color=PTS_R, line_color=None, fill_alpha=0.9)
curve(pD, D_cyan, "#a8dcf2", 0.8)
curve(pD, D_magenta, "#e07be0", 0.8)
curve(pD, D_black, "#222222", 1.0)

pE = panel(272, 79, (3354.665, 3355.015), (0.387, -0.365), (30, 1, 1, 24), 0.1, 5, 0.2, 4, "7.5px", X_LABEL)
x, y = xy(E_pts); pE.scatter(x, y, size=2.4, fill_color=PTS_R, line_color=None, fill_alpha=0.9)
x, y = xy(E_extra); pE.scatter(x, y, size=2.4, fill_color=PTS_R, line_color=None, fill_alpha=0.9)
curve(pE, E_cyan, "#a8dcf2", 0.8)
curve(pE, E_magenta, "#e07be0", 0.8)
curve(pE, E_black, "#222222", 1.0)

layout = row(column(pA, pB), column(pC, pD, pE))
open("out.html", "w").write(file_html(layout, INLINE))
